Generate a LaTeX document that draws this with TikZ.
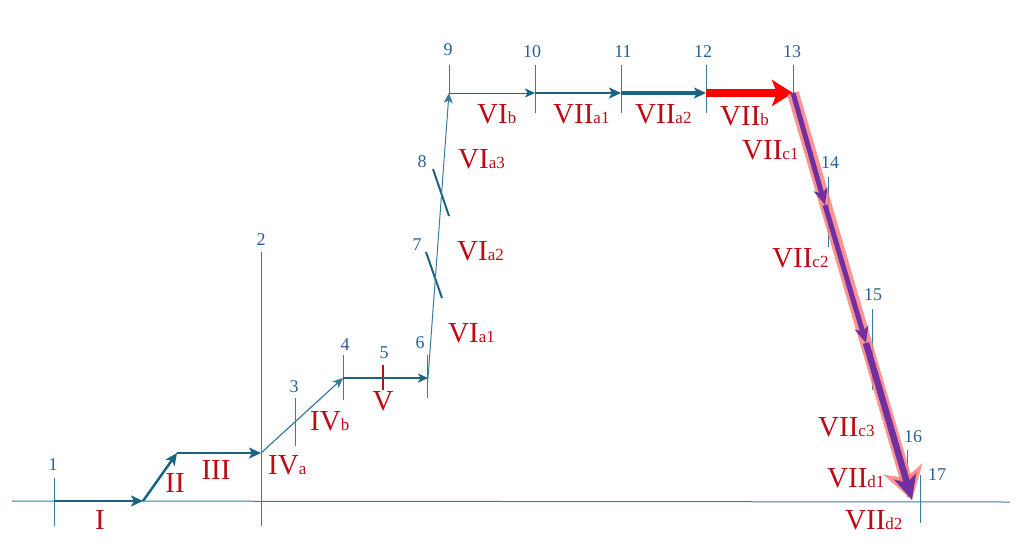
\documentclass[tikz,border=0pt]{standalone}
\usepackage{fontspec}
\setmainfont{Liberation Serif}
\usetikzlibrary{arrows.meta}
\definecolor{lineblue}{RGB}{25,100,130}
\definecolor{thinblue}{RGB}{55,125,155}
\definecolor{numblue}{RGB}{40,95,150}
\definecolor{labred}{RGB}{190,10,20}
\definecolor{pinkred}{RGB}{255,120,120}
\definecolor{purp}{RGB}{112,48,160}
\newcommand{\rl}[2]{{\fontsize{29}{29}\selectfont #1}{\fontsize{17}{17}\selectfont #2}}
\begin{document}
\begin{tikzpicture}[x=1pt,y=-1pt,
  tickline/.style={thinblue,line width=1pt},
  num/.style={text=numblue,font=\fontsize{18}{18}\selectfont,inner sep=0pt},
  lab/.style={text=labred,inner sep=0pt,anchor=base west},
  labc/.style={text=labred,inner sep=0pt,anchor=base},
  thickarr/.style={lineblue,line width=2.5pt,-{Stealth[length=12pt,width=11pt,inset=3pt]}},
  thinarr/.style={lineblue,line width=1.2pt,-{Stealth[length=10pt,width=9pt,inset=2.5pt]}},
  purparr/.style={purp,line width=5pt,-{Stealth[length=16pt,width=14pt,inset=4pt]}}]
\useasboundingbox (0,0) rectangle (1023,555);
% coordinates
\coordinate (bl) at (12,501);
\coordinate (br) at (1010,502);
\coordinate (p1) at (54,501);
\coordinate (q1) at (143,501);
\coordinate (q2) at (177,453);
\coordinate (p2) at (261,453);
\coordinate (p4) at (343,378);
\coordinate (p6) at (428,378);
\coordinate (p9) at (449,93);
\coordinate (p10) at (535,93);
\coordinate (p11) at (621,93);
\coordinate (p12) at (706,93);
\coordinate (p13) at (793,93);
\coordinate (d1) at (825,205);
\coordinate (d2) at (866,343);
\coordinate (pend) at (912,500);
% baseline
\draw[thinblue,line width=1pt] (bl) -- (br);
% ticks
\coordinate (t1a) at (54,478); \coordinate (t1b) at (54,526);
\coordinate (t2a) at (261,252); \coordinate (t2b) at (261,526);
\coordinate (t3a) at (295,398); \coordinate (t3b) at (295,446);
\coordinate (t4a) at (343,355); \coordinate (t4b) at (343,400);
\coordinate (t5a) at (383,365); \coordinate (t5b) at (383,390);
\coordinate (t6a) at (427,355); \coordinate (t6b) at (427,398);
\coordinate (t7a) at (426,252); \coordinate (t7b) at (442,298);
\coordinate (t8a) at (433,169); \coordinate (t8b) at (449,216);
\coordinate (t9a) at (449,65); \coordinate (t9b) at (449,93);
\coordinate (t10a) at (535,65); \coordinate (t10b) at (535,113);
\coordinate (t11a) at (621,65); \coordinate (t11b) at (621,113);
\coordinate (t12a) at (706,65); \coordinate (t12b) at (706,113);
\coordinate (t13a) at (793,65); \coordinate (t13b) at (793,100);
\coordinate (t14a) at (828,177); \coordinate (t14b) at (828,247);
\coordinate (t15a) at (872,309); \coordinate (t15b) at (872,390);
\coordinate (t16a) at (907,450); \coordinate (t16b) at (907,497);
\coordinate (t17a) at (920,475); \coordinate (t17b) at (920,523);
\foreach \i in {1,2,3,4,6,9,10,11,12,13,14,15,16,17}
  \draw[tickline] (t\i a) -- (t\i b);
\draw[labred,line width=2pt] (t5a) -- (t5b);
\draw[lineblue,line width=2pt] (t7a) -- (t7b);
\draw[lineblue,line width=2pt] (t8a) -- (t8b);
% arrows
\draw[thickarr] (p1) -- (q1);
\draw[thickarr] (q1) -- (q2);
\draw[thickarr] (q2) -- (p2);
\draw[thinarr,thinblue] (p2) -- (p4);
\draw[thinarr] (p4) -- (p6);
\draw[thinarr,thinblue,line width=1pt] (p6) -- (p9);
\draw[thinarr,line width=1pt] (p9) -- (p10);
\draw[thickarr,line width=2.5pt] (p10) -- (p11);
\draw[thickarr,line width=4pt] (p11) -- (p12);
\draw[red,line width=8pt,-{Stealth[length=21pt,width=26pt,inset=5pt]}] (p12) -- (p13);
% diagonal
\draw[pinkred,opacity=0.8,line width=12pt,-{Stealth[length=32pt,width=40pt,inset=9pt]}] (p13) -- (pend);
\draw[purparr] (p13) -- (d1);
\draw[purparr] (d1) -- (d2);
\draw[purp,line width=6.5pt,-{Stealth[length=24pt,width=22pt,inset=6pt]}] (d2) -- (pend);
% numbers
\node[num] (n1) at (53,465) {1};
\node[num] (n2) at (261,240) {2};
\node[num] (n3) at (294,387) {3};
\node[num] (n4) at (345,345) {4};
\node[num] (n5) at (384,353) {5};
\node[num] (n6) at (420,343) {6};
\node[num] (n7) at (417,245) {7};
\node[num] (n8) at (422,162) {8};
\node[num] (n9) at (448,50) {9};
\node[num] (n10) at (532,52) {10};
\node[num] (n11) at (623,52) {11};
\node[num] (n12) at (703,52) {12};
\node[num] (n13) at (792,52) {13};
\node[num] (n14) at (830,163) {14};
\node[num] (n15) at (873,295) {15};
\node[num] (n16) at (913,437) {16};
\node[num] (n17) at (937,475) {17};
% red labels
\node[labc] (lI) at (100,529) {\rl{I}{}};
\node[labc] (lII) at (175,492) {\rl{II}{}};
\node[labc] (lIII) at (216,479) {\rl{III}{}};
\node[lab] (lIVa) at (268,474) {\rl{IV}{a}};
\node[lab] (lIVb) at (310,430) {\rl{IV}{b}};
\node[labc] (lV) at (383,410) {\rl{V}{}};
\node[lab] (lVIa1) at (448,342) {\rl{VI}{a1}};
\node[lab] (lVIa2) at (457,260) {\rl{VI}{a2}};
\node[lab] (lVIa3) at (458,168) {\rl{VI}{a3}};
\node[lab] (lVIb) at (477,123) {\rl{VI}{b}};
\node[lab] (lVIIa1) at (553,123) {\rl{VII}{a1}};
\node[lab] (lVIIa2) at (635,123) {\rl{VII}{a2}};
\node[lab] (lVIIb) at (720,125) {\rl{VII}{b}};
\node[lab] (lVIIc1) at (742,159) {\rl{VII}{c1}};
\node[lab] (lVIIc2) at (772,267) {\rl{VII}{c2}};
\node[lab] (lVIIc3) at (818,436) {\rl{VII}{c3}};
\node[lab] (lVIId1) at (827,487) {\rl{VII}{d1}};
\node[lab] (lVIId2) at (845,529) {\rl{VII}{d2}};
\end{tikzpicture}
\end{document}
